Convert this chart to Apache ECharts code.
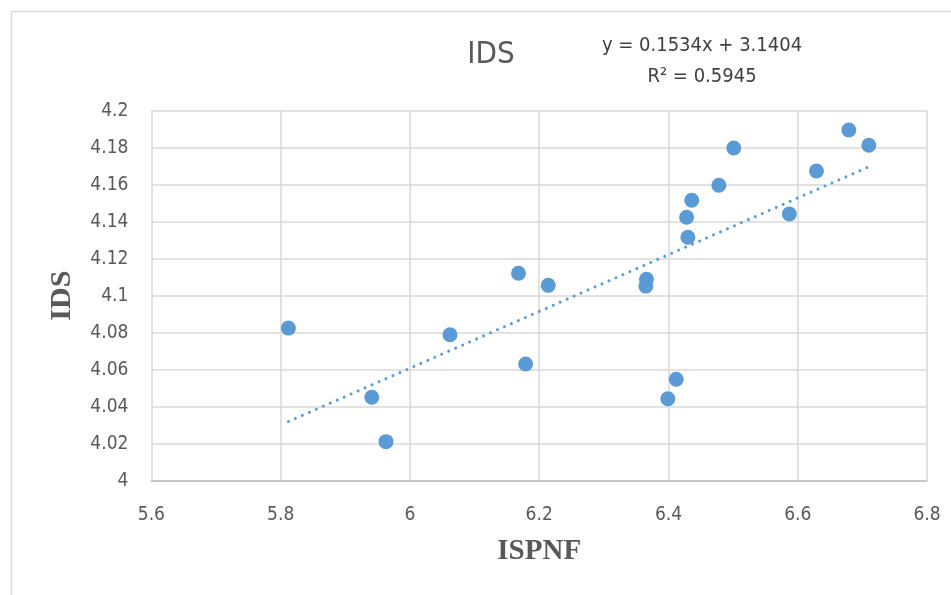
<!DOCTYPE html>
<html><head><meta charset="utf-8">
<script src="https://cdn.jsdelivr.net/npm/echarts@6/dist/echarts.min.js"></script>
<style>html,body{margin:0;padding:0;background:#fff}#c{width:951px;height:595px}</style>
</head><body><div id="c"></div>
<script>
const ispnf = [5.812, 5.941, 5.963, 6.062, 6.168, 6.214, 6.179, 6.365, 6.366, 6.399, 6.412, 6.430, 6.428, 6.436, 6.478, 6.501, 6.587, 6.629, 6.679, 6.710];
const ids   = [4.0825, 4.0451, 4.0211, 4.0789, 4.1121, 4.1056, 4.0631, 4.1052, 4.1089, 4.0443, 4.0548, 4.1316, 4.1424, 4.1516, 4.1597, 4.1798, 4.1442, 4.1674, 4.1896, 4.1813];
const trendX = [5.812, 6.710];
const trendY = [4.0320, 4.1697];
const titleText = 'IDS';
const equationText = 'y = 0.1534x + 3.1404';
const r2Text = 'R² = 0.5945';
const xName = 'ISPNF';
const yName = 'IDS';

const font = '"Liberation Sans Narrow","DejaVu Sans Condensed","Open Sans",sans-serif';
const serif = '"Liberation Serif","DejaVu Serif",serif';
const chart = echarts.init(document.getElementById('c'), null, {renderer:'canvas'});
chart.setOption({
  animation:false,
  backgroundColor:'#fff',
  graphic:[
    {type:'rect', shape:{x:11.5, y:11.5, width:960, height:600}, style:{fill:'none', stroke:'#d9d9d9', lineWidth:1.5}, silent:true},
    {type:'text', x:491, y:55, style:{text:titleText, font:'31px '+font, fill:'#595959', align:'center', verticalAlign:'middle'}},
    {type:'text', x:702, y:46, style:{text:equationText, font:'20px '+font, fill:'#404040', align:'center', verticalAlign:'middle'}},
    {type:'text', x:702, y:77, style:{text:r2Text, font:'20px '+font, fill:'#404040', align:'center', verticalAlign:'middle'}}
  ],
  grid:{left:151.4, right:24, top:110.7, bottom:114.3, containLabel:false},
  xAxis:{
    type:'value', min:5.6, max:6.8, interval:0.2,
    name:xName, nameLocation:'middle', nameGap:56,
    nameTextStyle:{fontFamily:serif, fontWeight:'bold', fontSize:29, color:'#595959'},
    axisLine:{show:true, lineStyle:{color:'#bfbfbf', width:1.5}},
    axisTick:{show:false},
    axisLabel:{fontFamily:font, fontSize:19, color:'#595959', margin:25, formatter:v=>String(Math.round(v*10)/10)},
    splitLine:{show:true, lineStyle:{color:'#d9d9d9', width:1.5}}
  },
  yAxis:{
    type:'value', min:4, max:4.2, interval:0.02,
    name:yName, nameLocation:'middle', nameGap:74, nameRotate:90,
    nameTextStyle:{fontFamily:serif, fontWeight:'bold', fontSize:30, color:'#595959'},
    axisLine:{show:false},
    axisTick:{show:false},
    axisLabel:{fontFamily:font, fontSize:19, color:'#595959', margin:23, formatter:v=>String(Math.round(v*100)/100)},
    splitLine:{show:true, lineStyle:{color:'#d9d9d9', width:1.5}}
  },
  series:[
    {type:'line', data:trendX.map((x,i)=>[x,trendY[i]]), symbol:'none', z:1,
      lineStyle:{color:'#5B9BD5', width:3, type:[0.01,7.6], cap:'round'}},
    {type:'scatter', data:ispnf.map((x,i)=>[x,ids[i]]), symbol:'circle', symbolSize:15, z:2,
      itemStyle:{color:'#5B9BD5', opacity:1}}
  ]
});
</script></body></html>
